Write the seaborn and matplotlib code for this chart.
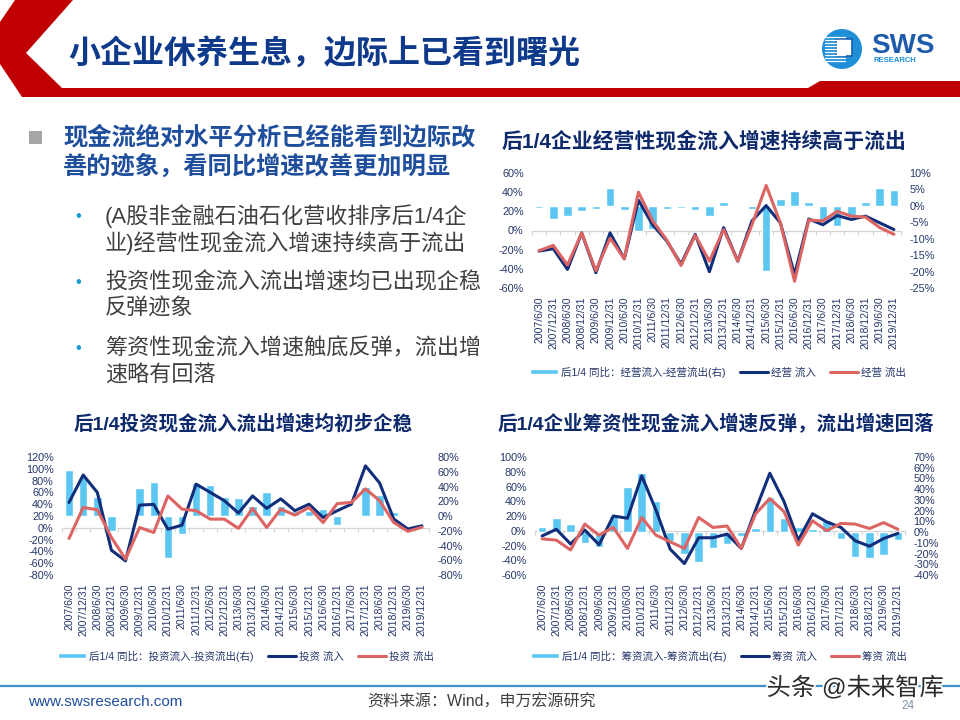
import numpy as np
import pandas as pd
import matplotlib
matplotlib.use('Agg')
import matplotlib.pyplot as plt
import seaborn as sns
from matplotlib.patches import Polygon, Circle, Rectangle
import matplotlib.patheffects as pe

sns.set_theme(style='white')
plt.rcParams['font.family'] = ['Liberation Sans', 'Noto Sans CJK SC', 'DejaVu Sans']

# ---------------- data ----------------
dates = ['2007/6/30', '2007/12/31', '2008/6/30', '2008/12/31', '2009/6/30', '2009/12/31',
         '2010/6/30', '2010/12/31', '2011/6/30', '2011/12/31', '2012/6/30', '2012/12/31',
         '2013/6/30', '2013/12/31', '2014/6/30', '2014/12/31', '2015/6/30', '2015/12/31',
         '2016/6/30', '2016/12/31', '2017/6/30', '2017/12/31', '2018/6/30', '2018/12/31',
         '2019/6/30', '2019/12/31']

# operating cash flow (%)
op_diff = [-0.8, -4, -3, -1.5, -1, 5.5, -1.3, -7.8, -7, -1, -0.6, -1.3, -3, 1.2, -0.3, -1,
           -19.7, 2, 4.5, 1.2, -4.6, -6, -3, 1.3, 5.3, 4.8]
op_in = [-21.5, -19, -40.6, -2.5, -44, -2.5, -29.5, 31.6, 6, -11, -35, -4, -43, 3, -32, 10,
         26, 8, -46, 12, 6, 15.6, 11.5, 15, 8, 1]
op_out = [-21, -15.6, -36, -2.5, -42, -8, -29.5, 40, 10, -10, -36.5, -5, -32, 1, -32, 6,
          47, 8, -53, 11, 10, 20, 15, 14, 3, -4]

# investing cash flow (%)
inv_diff = [61.7, 54, 26, -20, -1, 37.6, 46.7, -57.6, -25, 45, 42.6, 26, 24.5, 13.6, 32.6, 13.6,
            6.3, 7, 10, -12.7, -1.8, 40, 28.5, 6, 1, 1]
inv_in = [43, 89.5, 60, -38, -56, 38.5, 39.7, -2.3, 4.5, 74, 60, 46, 25, 54, 33, 49,
          29, 40, 17.5, 29, 40, 105, 76, 15, -2, 3.4]
inv_out = [-18, 34.5, 30.6, -16.4, -53, 0.5, -8, 54, 31.7, 29, 14.7, 14.7, -1, 33, 0.5, 31.7,
           21.5, 34.5, 9, 41, 43, 66, 46, 9, -6, 1]

# financing cash flow (%)
fin_diff = [5, 13, 8, -10, -14, 15, 42, 55, 29, -8, -20, -28, -15, -11, -4, 4,
            33, 13, 5, 3, 11, -6, -23, -24, -21, -7]
fin_in = [-7, 2, -18, 1, -19, 20, 17, 74.5, 28, -25, -44.5, -9.5, -9.5, -4.5, -24, 28,
          78, 39.5, -13, 23, 12, 4.5, -13.6, -21, -10.5, -3.6]
fin_out = [-11, -12.7, -26, 9, -6, 4.5, -24, 18, -6, -15, -24, 18, 4.5, 6.4, -24, 23,
           43.6, 26, -19.5, 13.6, 0, 10, 9, 3, 11, 2]

op_labels = ['后1/4 同比：经营流入-经营流出(右)', '经营 流入', '经营 流出']
inv_labels = ['后1/4 同比：投资流入-投资流出(右)', '投资 流入', '投资 流出']
fin_labels = ['后1/4 同比：筹资流入-筹资流出(右)', '筹资 流入', '筹资 流出']

op_title = '后1/4企业经营性现金流入增速持续高于流出'
inv_title = '后1/4投资现金流入流出增速均初步企稳'
fin_title = '后1/4企业筹资性现金流入增速反弹，流出增速回落'

# ---------------- style ----------------
CYAN = '#5cc8f2'
NAVY = '#112e7a'
RED = '#dc6462'
TICK = '#25366a'
W, H = 960, 720

fig = plt.figure(figsize=(9.6, 7.2), dpi=100)
fig.patch.set_facecolor('white')


def fx(x):
    return x / W


def fy(y):
    return 1 - y / H


def draw_chart(box, diff, inflow, outflow, labels, left_ticks, right_ticks,
               title, title_xy, title_size, legend_xy):
    l, t, r, b = box
    ax_bar = fig.add_axes([fx(l), fy(b), (r - l) / W, (b - t) / H])
    ax_bar.patch.set_alpha(0)
    df = pd.DataFrame({'date': dates, 'diff': diff, 'inflow': inflow,
                       'outflow': outflow, 'idx': np.arange(len(dates))})
    sns.barplot(data=df, x='date', y='diff', color=CYAN, saturation=1, width=0.6,
                errorbar=None, ax=ax_bar)
    ax_line = ax_bar.twinx()
    sns.lineplot(data=df, x='idx', y='inflow', color=NAVY, linewidth=2.2, ax=ax_line)
    sns.lineplot(data=df, x='idx', y='outflow', color=RED, linewidth=2.2, ax=ax_line)
    for ln in ax_line.lines:
        ln.set_solid_joinstyle('round')

    ax_bar.set_xlim(-0.5, len(dates) - 0.5)
    ax_bar.set_ylim(right_ticks[0], right_ticks[-1])
    ax_line.set_ylim(left_ticks[0], left_ticks[-1])

    ax_bar.yaxis.tick_right()
    ax_line.yaxis.tick_left()
    ax_bar.set_yticks(right_ticks, [f'{v:.0f}%' for v in right_ticks])
    ax_line.set_yticks(left_ticks, [f'{v:.0f}%' for v in left_ticks])
    for a in (ax_bar, ax_line):
        for s in a.spines.values():
            s.set_visible(False)
        a.set_xlabel('')
        a.set_ylabel('')
        a.tick_params(axis='y', length=0, pad=6, labelsize=7.8, labelcolor=TICK)
    ax_bar.set_xticks(range(len(dates)), dates, rotation=90)
    ax_bar.tick_params(axis='x', length=0, pad=6, labelsize=7.6, labelcolor=TICK)

    # category axis crossing at left-axis zero
    zero_frac = (0 - left_ticks[0]) / (left_ticks[-1] - left_ticks[0])
    sec = ax_bar.secondary_xaxis(zero_frac)
    sec.set_alignment('bottom')
    sec.set_xticks([])
    sec.set_xticks(np.arange(-0.5, len(dates), 1.0), minor=True)
    sec.tick_params(which='minor', length=3, width=0.8, color='#d4d4d4', direction='out',
                    labelbottom=False)
    sec.spines['bottom'].set_color('#d4d4d4')
    sec.spines['bottom'].set_linewidth(0.9)

    fig.text(fx(title_xy[0]), fy(title_xy[1]), title, ha='center', va='center',
             fontsize=title_size, fontweight='bold', color='#0f2a6c')

    handles = [ax_bar.patches[0], ax_line.lines[0], ax_line.lines[1]]
    ax_line.legend(handles, labels, loc='center',
                   bbox_to_anchor=(fx(legend_xy[0]), fy(legend_xy[1])),
                   bbox_transform=fig.transFigure, ncol=3, frameon=False,
                   fontsize=7.6, handlelength=2.6, handleheight=0.4,
                   handletextpad=0.3, columnspacing=1.4, labelcolor=TICK)


# ---------------- background / slide decoration ----------------
bg = fig.add_axes([0, 0, 1, 1], zorder=-5)
bg.set_xlim(0, W)
bg.set_ylim(H, 0)
bg.axis('off')

bg.add_patch(Polygon([(15, 0), (73, 0), (26, 53), (62, 88), (808, 88), (820, 81),
                      (960, 81), (960, 97), (22, 97), (0, 64), (0, 22)],
                     closed=True, fc='#c00000', ec='none'))
bg.text(68, 54, '小企业休养生息，边际上已看到曙光', fontsize=23, fontweight='bold',
        color='#0f3a8c', va='center', ha='left', family=['Noto Sans CJK SC'])

# logo
bg.add_patch(Circle((842, 49), 20, fc='#1f8fd8', ec='none'))
for yy in range(37, 63, 3):
    bg.plot([825, 845], [yy, yy], color='white', lw=0.9)
bg.add_patch(Rectangle((836, 39), 16, 17, fc='white', ec='#1a5fb0', lw=1.2))
bg.text(871, 46, 'SWS', fontsize=20, fontweight='bold', color='#1e5bab',
        va='center', ha='left', family=['Liberation Sans'])
bg.text(873, 61, 'RESEARCH', fontsize=5.5, fontweight='bold', color='#1a8fd8',
        va='center', ha='left', family=['Liberation Sans'])

# bullets
bg.add_patch(Rectangle((29, 131), 13, 13, fc='#a6a6a6', ec='none'))
bg.text(63, 138, '现金流绝对水平分析已经能看到边际改', fontsize=17.5, fontweight='bold',
        color='#1f4e9c', va='center', ha='left')
bg.text(63, 167, '善的迹象，看同比增速改善更加明显', fontsize=17.5, fontweight='bold',
        color='#1f4e9c', va='center', ha='left')

sub_lines = [('(A股非金融石油石化营收排序后1/4企', 216, True),
             ('业)经营性现金流入增速持续高于流出', 243, False),
             ('投资性现金流入流出增速均已出现企稳', 283, True),
             ('反弹迹象', 309, False),
             ('筹资性现金流入增速触底反弹，流出增', 349, True),
             ('速略有回落', 376, False)]
for txt, yy, dot in sub_lines:
    if dot:
        bg.text(78, yy, '•', fontsize=12, color='#1a9ad6', va='center', ha='center')
    bg.text(105, yy, txt, fontsize=15.9, color='#404040', va='center', ha='left')

# footer
bg.plot([0, 960], [686, 686], color='#3f92c8', lw=1.6)
bg.text(28, 702, 'www.swsresearch.com', fontsize=11, color='#1f4e9c', va='center', ha='left')
bg.text(481, 702, '资料来源：Wind，申万宏源研究', fontsize=11.5, color='#404040',
        va='center', ha='center')
bg.text(908, 706, '24', fontsize=8.5, color='#8090a8', va='center', ha='center')
bg.text(855, 688, '头条 @未来智库', fontsize=17.5, color='#2a2a2a', va='center', ha='center',
        path_effects=[pe.withStroke(linewidth=2.5, foreground='white')], zorder=10)

# ---------------- charts ----------------
draw_chart((532, 173, 901, 288), op_diff, op_in, op_out, op_labels,
           list(range(-60, 61, 20)), list(range(-25, 11, 5)),
           op_title, (704, 141), 15, (718, 372))

draw_chart((62, 457, 429, 575), inv_diff, inv_in, inv_out, inv_labels,
           list(range(-80, 121, 20)), list(range(-80, 81, 20)),
           inv_title, (243, 424), 14, (246, 656))

draw_chart((535, 457, 905, 575), fin_diff, fin_in, fin_out, fin_labels,
           list(range(-60, 101, 20)), list(range(-40, 71, 10)),
           fin_title, (716, 424), 14, (719, 656))

fig.savefig('out.png', dpi=100, facecolor='white')
